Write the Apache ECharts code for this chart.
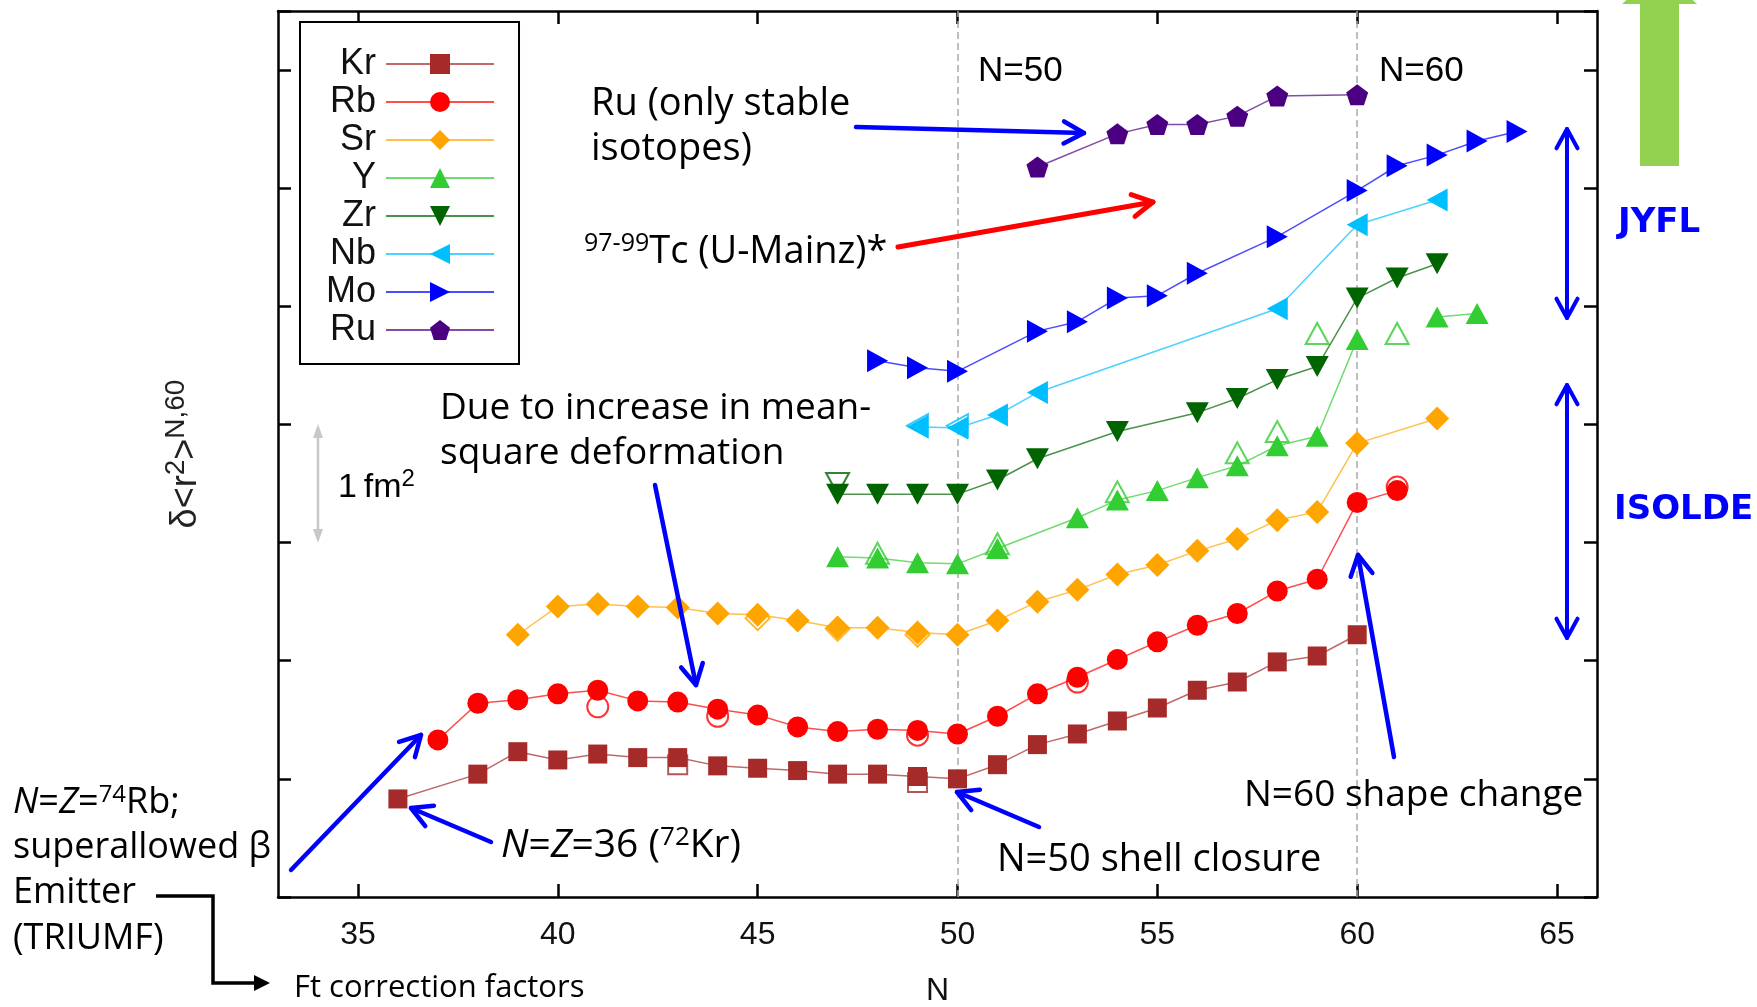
<!DOCTYPE html>
<html><head><meta charset="utf-8">
<script src="https://cdn.jsdelivr.net/npm/echarts@6/dist/echarts.min.js"></script>
<style>html,body{margin:0;padding:0;background:#fff;}#c{width:1757px;height:1007px;}</style>
</head><body><div id="c"></div>
<script>
// ---------------- DATA ----------------
const X_TICKS = [35, 40, 45, 50, 55, 60, 65];
const SHELL_LINES = [50, 60];

const KR_N = [36,38,39,40,41,42,43,44,45,46,47,48,49,50,51,52,53,54,55,56,57,58,59,60];
const KR_V = [0.83,1.04,1.23,1.16,1.21,1.18,1.18,1.11,1.09,1.07,1.04,1.04,1.02,1.00,1.12,1.29,1.38,1.49,1.60,1.75,1.82,1.99,2.04,2.22];
const RB_N = [37,38,39,40,41,42,43,44,45,46,47,48,49,50,51,52,53,54,55,56,57,58,59,60,61];
const RB_V = [1.33,1.64,1.67,1.72,1.75,1.66,1.65,1.59,1.54,1.44,1.40,1.42,1.41,1.38,1.53,1.72,1.86,2.01,2.16,2.30,2.40,2.59,2.69,3.34,3.44];
const SR_N = [39,40,41,42,43,44,45,46,47,48,49,50,51,52,53,54,55,56,57,58,59,60,62];
const SR_V = [2.22,2.46,2.48,2.46,2.45,2.40,2.39,2.34,2.28,2.28,2.24,2.22,2.34,2.50,2.60,2.73,2.81,2.93,3.03,3.19,3.26,3.84,4.05];
const Y_N  = [47,48,49,50,51,53,54,55,56,57,58,59,60,61,62,63];
const Y_V  = [2.88,2.87,2.83,2.82,2.95,3.21,3.36,3.44,3.55,3.65,3.82,3.90,4.72,null,4.91,4.94];
const ZR_N = [47,48,49,50,51,52,54,56,57,58,59,60,61,62];
const ZR_V = [3.41,3.41,3.41,3.41,3.53,3.71,3.94,4.10,4.22,4.38,4.49,5.07,5.24,5.36];
const NB_N = [49,50,51,52,58,60,62];
const NB_V = [3.98,3.97,4.08,4.27,4.98,5.69,5.90];
const MO_N = [48,49,50,52,53,54,55,56,58,60,61,62,63,64];
const MO_V = [4.54,4.48,4.45,4.79,4.87,5.07,5.09,5.28,5.59,5.98,6.19,6.28,6.40,6.48];
const RU_N = [52,54,55,56,57,58,60];
const RU_V = [6.18,6.46,6.54,6.54,6.61,6.78,6.79];

// open symbols (second data set)
const KR_OPEN_N = [43,49];            const KR_OPEN_V = [1.12,0.97];
const RB_OPEN_N = [41,44,49,53,61];   const RB_OPEN_V = [1.61,1.53,1.37,1.82,3.47];
const SR_OPEN_N = [45,47,49];         const SR_OPEN_V = [2.36,2.27,2.22];
const Y_OPEN_N  = [48,51,54,57,58,59,61]; const Y_OPEN_V = [2.91,2.99,3.43,3.76,3.94,4.77,4.77];
const ZR_OPEN_N = [47];               const ZR_OPEN_V = [3.50];
const NB_OPEN_N = [49,50];            const NB_OPEN_V = [3.99,3.99];

// ---------------- STYLE ----------------
const FONT_ANN = "'Open Sans', sans-serif";
const FONT_AX = "'Liberation Sans', Arial, sans-serif";
const PENTAGON = 'path://M50,0L97.55,34.55L79.39,90.45L20.61,90.45L2.45,34.55Z';

const ELEMENTS = [
  {name:'Kr', color:'#A52A2A', symbol:'rect',     size:[19,19], rot:0,   N:KR_N, V:KR_V, oN:KR_OPEN_N, oV:KR_OPEN_V, empty:'emptyRect'},
  {name:'Rb', color:'#FF0000', symbol:'circle',   size:21,      rot:0,   N:RB_N, V:RB_V, oN:RB_OPEN_N, oV:RB_OPEN_V, empty:'emptyCircle'},
  {name:'Sr', color:'#FFA500', symbol:'diamond',  size:[24,24], rot:0,   N:SR_N, V:SR_V, oN:SR_OPEN_N, oV:SR_OPEN_V, empty:'emptyDiamond'},
  {name:'Y',  color:'#32CD32', symbol:'triangle', size:[23,21], rot:0,   N:Y_N,  V:Y_V,  oN:Y_OPEN_N,  oV:Y_OPEN_V,  empty:'emptyTriangle'},
  {name:'Zr', color:'#006400', symbol:'triangle', size:[23,21], rot:180, N:ZR_N, V:ZR_V, oN:ZR_OPEN_N, oV:ZR_OPEN_V, empty:'emptyTriangle'},
  {name:'Nb', color:'#00BFFF', symbol:'triangle', size:[23,21], rot:90,  N:NB_N, V:NB_V, oN:NB_OPEN_N, oV:NB_OPEN_V, empty:'emptyTriangle'},
  {name:'Mo', color:'#0000FF', symbol:'triangle', size:[23,21], rot:-90, N:MO_N, V:MO_V, oN:[], oV:[], empty:null},
  {name:'Ru', color:'#4B0082', symbol:PENTAGON,   size:[22,21], rot:0,   N:RU_N, V:RU_V, oN:[], oV:[], empty:null}
];

function pairs(ns, vs) { return ns.map((n, i) => [n, vs[i]]); }

const series = [];
ELEMENTS.forEach((e, idx) => {
  const s = {
    name: e.name, type: 'line', data: pairs(e.N, e.V),
    symbol: e.symbol, symbolSize: e.size, symbolRotate: e.rot, showSymbol: true,
    connectNulls: false, z: 3,
    itemStyle: {color: e.color},
    lineStyle: {color: e.color, width: 1.5, opacity: 0.7},
    emphasis: {disabled: true}
  };
  if (idx === 0) {
    s.markLine = {
      silent: true, z: 1, symbol: ['none','none'], label: {show: false},
      lineStyle: {color: '#aaaaaa', type: [7,4], width: 1.5},
      data: SHELL_LINES.map(v => ({xAxis: v}))
    };
  }
  series.push(s);
  if (e.empty && e.oN.length) {
    series.push({
      name: e.name + ' (open)', type: 'scatter', data: pairs(e.oN, e.oV),
      symbol: e.empty, symbolSize: e.size, symbolRotate: e.rot, z: 2,
      itemStyle: {color: e.color, borderWidth: 1.5},
      emphasis: {disabled: true}
    });
  }
});

// ---------------- ANNOTATIONS ----------------
const graphics = [];
function T(x, y, text, o) {
  o = o || {};
  const ff = o.ff || FONT_ANN, fs = o.fs || 37, col = o.color || '#000';
  const st = {text: text, fontFamily: ff, fontSize: fs, fontWeight: o.fw || 'normal',
    fill: col, align: 'left', verticalAlign: 'middle'};
  if (o.sup) {
    st.rich = {
      m: {fontFamily: ff, fontSize: fs, fill: col},
      i: {fontFamily: ff, fontSize: fs, fill: col, fontStyle: 'italic'},
      s: {fontFamily: ff, fontSize: o.sup, fill: col, padding: [0,0,o.raise || 16,0]}
    };
  }
  graphics.push({type: 'text', x: x, y: y, silent: true, z: 100, style: st});
}
function head(x2, y2, ang, len, color, w) {
  const a1 = ang + Math.PI - 0.5, a2 = ang + Math.PI + 0.5;
  return {type: 'polyline', silent: true, z: 100,
    shape: {points: [[x2 + len*Math.cos(a1), y2 + len*Math.sin(a1)], [x2, y2], [x2 + len*Math.cos(a2), y2 + len*Math.sin(a2)]]},
    style: {stroke: color, lineWidth: w, fill: null, lineJoin: 'round', lineCap: 'round'}};
}
function arrow(x1, y1, x2, y2, color, w, len, both) {
  graphics.push({type: 'line', silent: true, z: 100, shape: {x1, y1, x2, y2}, style: {stroke: color, lineWidth: w, lineCap: 'round'}});
  const ang = Math.atan2(y2 - y1, x2 - x1);
  graphics.push(head(x2, y2, ang, len, color, w));
  if (both) graphics.push(head(x1, y1, ang + Math.PI, len, color, w));
}
function filledHead(x2, y2, ang, len, half, color) {
  const bx = x2 - len*Math.cos(ang), by = y2 - len*Math.sin(ang);
  const px = -Math.sin(ang)*half, py = Math.cos(ang)*half;
  graphics.push({type: 'polygon', silent: true, z: 100,
    shape: {points: [[x2, y2], [bx + px, by + py], [bx - px, by - py]]}, style: {fill: color}});
}

const BLUE = '#0000FF';
T(591, 104, 'Ru (only stable', {fs: 38});
T(591, 149, 'isotopes)', {fs: 38});
T(584, 252, '{s|97-99}{m|Tc (U-Mainz)*}', {sup: 25, fs: 38});
T(440, 408, 'Due to increase in mean-', {fs: 37});
T(440, 453, 'square deformation', {fs: 37});
T(13, 803, '{i|N}{m|=}{i|Z}{m|=}{s|74}{m|Rb;}', {sup: 24, fs: 36});
T(13, 848, 'superallowed β', {fs: 36});
T(13, 893, 'Emitter', {fs: 36});
T(13, 939, '(TRIUMF)', {fs: 36});
T(294, 988, 'Ft correction factors', {fs: 31});
T(501, 846, '{i|N}{m|=}{i|Z}{m|=36 (}{s|72}{m|Kr)}', {sup: 26, fs: 39});
T(997, 860, 'N=50 shell closure', {fs: 38});
T(1244, 795, 'N=60 shape change', {fs: 37});
T(1618, 223, 'JYFL', {ff: "'DejaVu Sans', sans-serif", fw: 'bold', fs: 34, color: BLUE});
T(1614, 510, 'ISOLDE', {ff: "'DejaVu Sans', sans-serif", fw: 'bold', fs: 34, color: BLUE});
T(978, 71, 'N=50', {ff: FONT_AX, fs: 35});
T(1379, 71, 'N=60', {ff: FONT_AX, fs: 35});
T(338, 488, '{m|1\u2009fm}{s|2}', {ff: FONT_AX, fs: 34, sup: 24, raise: 18});

arrow(856, 127, 1084, 133, BLUE, 4.5, 23);
arrow(898, 247, 1153, 202, '#FF0000', 5, 23);
arrow(655, 485, 696, 685, BLUE, 4.5, 23);
arrow(291, 870, 421, 735, BLUE, 4.5, 23);
arrow(491, 842, 411, 808, BLUE, 4.5, 23);
arrow(1039, 827, 957, 792, BLUE, 4.5, 23);
arrow(1394, 757, 1358, 555, BLUE, 4.5, 23);
arrow(1567, 129, 1567, 318, BLUE, 4, 22, true);
arrow(1567, 385, 1567, 638, BLUE, 4, 22, true);

// gray 1 fm^2 scale bar
graphics.push({type: 'line', silent: true, z: 100, shape: {x1: 318, y1: 436, x2: 318, y2: 531}, style: {stroke: '#c8c8c8', lineWidth: 2.5}});
filledHead(318, 424, -Math.PI/2, 14, 5, '#c8c8c8');
filledHead(318, 543, Math.PI/2, 14, 5, '#c8c8c8');

// black elbow connector
graphics.push({type: 'polyline', silent: true, z: 100, shape: {points: [[156,896],[213,896],[213,983],[256,983]]},
  style: {stroke: '#000', lineWidth: 3.5, fill: null}});
filledHead(270, 983, 0, 16, 8, '#000');

// green arrow (top right)
graphics.push({type: 'rect', silent: true, z: 100, shape: {x: 1640, y: 3, width: 39, height: 163}, style: {fill: '#92D050'}});
graphics.push({type: 'polygon', silent: true, z: 100, shape: {points: [[1622,4],[1697,4],[1660,-30]]}, style: {fill: '#92D050'}});

// ---------------- CHART ----------------
const axisLine = {show: true, onZero: false, lineStyle: {color: '#000', width: 2.5}};
const tickX = {show: true, inside: true, length: 13, customValues: X_TICKS, lineStyle: {color: '#000', width: 2.5}};
const tickY = {show: true, inside: true, length: 13, lineStyle: {color: '#000', width: 2.5}};

const option = {
  animation: false,
  backgroundColor: '#fff',
  grid: {left: 278, right: 160, top: 11, bottom: 110, containLabel: false, outerBoundsMode: 'none'},
  xAxis: [
    {type: 'value', min: 33, max: 66, position: 'bottom',
     name: 'N', nameLocation: 'middle', nameGap: 78,
     nameTextStyle: {fontSize: 32, fontFamily: FONT_AX, color: '#111'},
     axisLine: axisLine, axisTick: tickX,
     axisLabel: {show: true, customValues: X_TICKS, margin: 22, fontSize: 32, fontFamily: FONT_AX, color: '#111'},
     splitLine: {show: false}},
    {type: 'value', min: 33, max: 66, position: 'top',
     axisLine: axisLine, axisTick: tickX, axisLabel: {show: false}, splitLine: {show: false}}
  ],
  yAxis: [
    {type: 'value', min: 0, max: 7.5, interval: 1, position: 'left',
     name: '{a|δ<r}{s|2}{a|>}{s|N,60}', nameLocation: 'middle', nameRotate: 90, nameGap: 68,
     nameTextStyle: {color: '#222', rich: {
       a: {fontSize: 36, fontFamily: FONT_AX, color: '#222'},
       s: {fontSize: 28, fontFamily: FONT_AX, color: '#222', padding: [0,0,20,0]}
     }},
     axisLine: axisLine, axisTick: tickY, axisLabel: {show: false}, splitLine: {show: false}},
    {type: 'value', min: 0, max: 7.5, interval: 1, position: 'right',
     axisLine: axisLine, axisTick: tickY, axisLabel: {show: false}, splitLine: {show: false}}
  ],
  legend: {
    data: ELEMENTS.map(e => e.name),
    orient: 'vertical', left: 300, top: 22, align: 'right',
    itemWidth: 108, itemHeight: 25, itemGap: 2,
    padding: [24, 24, 16, 26],
    borderColor: '#000', borderWidth: 2, backgroundColor: '#fff',
    textStyle: {fontSize: 36, fontFamily: FONT_AX, color: '#111', lineHeight: 34, padding: [0, 5, 0, 0]},
    selectedMode: false
  },
  series: series,
  graphic: graphics
};

const chart = echarts.init(document.getElementById('c'), null, {renderer: 'canvas'});
chart.setOption(option);
</script></body></html>
